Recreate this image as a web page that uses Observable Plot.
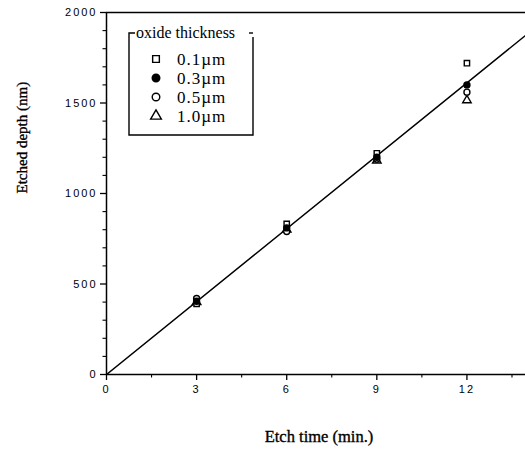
<!DOCTYPE html>
<html><head><meta charset="utf-8">
<script src="https://cdn.jsdelivr.net/npm/d3@7"></script>
<script src="https://cdn.jsdelivr.net/npm/@observablehq/plot@0.6"></script>
<style>
body{margin:0;background:#fff}
</style>
</head><body><div id="chart"></div>
<script>
const times = [3, 6, 9, 12];
const seriesNames = ["0.1\u00b5m", "0.3\u00b5m", "0.5\u00b5m", "1.0\u00b5m"];
const depth01 = [390, 832, 1222, 1720];
const depth03 = [405, 810, 1200, 1600];
const depth05 = [420, 790, 1190, 1560];
const depth10 = [400, 800, 1182, 1515];
const fitTime = [0, 14];
const fitDepth = [0, 1880];
const yMajor = [0, 500, 1000, 1500, 2000];
const yMinor = [100,200,300,400,600,700,800,900,1100,1200,1300,1400,1600,1700,1800,1900];
const xMajor = [0, 3, 6, 9, 12];
const xMinor = [1.5, 4.5, 7.5, 10.5, 13.5];
const legendTitle = "oxide thickness";
const xLabel = "Etch time (min.)";
const yLabel = "Etched depth (nm)";

const symbols = ["square", "circle", "circle", "triangle"];
const fills = ["white", "black", "white", "white"];
const allSeries = [depth01, depth03, depth05, depth10];
const rows = [];
[0, 3, 2, 1].forEach(s => times.forEach((t, i) => rows.push({t, d: allSeries[s][i], s})));
const fit = fitTime.map((t, i) => ({t, d: fitDepth[i]}));

const serif = "Liberation Serif, Times New Roman, serif";
const plot = Plot.plot({
  width: 525, height: 459,
  marginLeft: 106, marginTop: 12, marginBottom: 85, marginRight: 0,
  style: {fontFamily: "Liberation Sans, Arial, sans-serif", fontSize: "11px", color: "black", background: "white"},
  x: {domain: [0, 13.95]},
  y: {domain: [0, 2000]},
  marks: [
    Plot.axisY({ticks: yMajor, tickSize: 6, tickPadding: 3, tickFormat: d => String(d), label: null, strokeWidth: 1.3}),
    Plot.axisY({ticks: yMinor, tickSize: 3.5, text: null, label: null, strokeWidth: 1.1}),
    Plot.axisX({ticks: xMajor, tickSize: 6, tickPadding: 5, tickFormat: d => String(d), label: null, strokeWidth: 1.3}),
    Plot.axisX({ticks: xMinor, tickSize: 3.5, text: null, label: null, strokeWidth: 1.1}),
    Plot.ruleX([0], {strokeWidth: 1.5}),
    Plot.ruleY([0], {strokeWidth: 1.5}),
    Plot.ruleY([2000], {strokeWidth: 1.5}),
    Plot.line(fit, {x: "t", y: "d", stroke: "black", strokeWidth: 1.5, clip: true}),
    Plot.dot(rows, {x: "t", y: "d", symbol: d => symbols[d.s], fill: d => fills[d.s], stroke: "black", strokeWidth: 1.4, r: d => d.s === 3 ? 4.2 : 3.8}),
    Plot.text([yLabel], {frameAnchor: "left", dx: -84, rotate: -90, fontFamily: serif, fontSize: 15, fill: "black"}),
    Plot.text([xLabel], {frameAnchor: "bottom", dx: 3, dy: 67, fontFamily: serif, fontSize: 16.5, fill: "black"})
  ]
});
plot.setAttribute("style", (plot.getAttribute("style") || "") + ";overflow:visible");
document.getElementById("chart").append(plot);

const svg = d3.select(plot);
svg.selectAll('g[aria-label="y-axis tick label"] text, g[aria-label="x-axis tick label"] text')
  .attr("letter-spacing", "2px");
svg.selectAll('g[aria-label="text"] text').attr("stroke", "black").attr("stroke-width", 0.35);

// Legend
const g = svg.append("g").attr("text-anchor", "start");
const bx = 129, by = 33, bw = 124, bh = 102;
g.append("path").attr("d", `M${bx+6},${by}H${bx}V${by+bh}H${bx+bw}V${by+4}`).attr("fill","none").attr("stroke","black").attr("stroke-width",1.4);
g.append("path").attr("d", `M${bx+bw-4},${by}H${bx+bw}`).attr("fill","none").attr("stroke","black").attr("stroke-width",1.4);
g.append("text").attr("x", bx+7).attr("y", by+5).attr("text-anchor", "start").text(legendTitle)
  .attr("font-family", serif).attr("font-size", 16).attr("fill","black");
const d3sym = {square: d3.symbolSquare, circle: d3.symbolCircle, triangle: d3.symbolTriangle};
seriesNames.forEach((name, i) => {
  const y = by + 26 + i * 19;
  g.append("path").attr("transform", `translate(${bx+27},${y})`)
    .attr("d", d3.symbol(d3sym[symbols[i]], i === 3 ? 50 : 45)())
    .attr("fill", fills[i]).attr("stroke","black").attr("stroke-width",1.4);
  g.append("text").attr("x", bx+48).attr("y", y+6).attr("text-anchor", "start").text(name)
    .attr("font-family", serif).attr("font-size", 17).attr("letter-spacing", "1px").attr("fill","black");
});
</script></body></html>
